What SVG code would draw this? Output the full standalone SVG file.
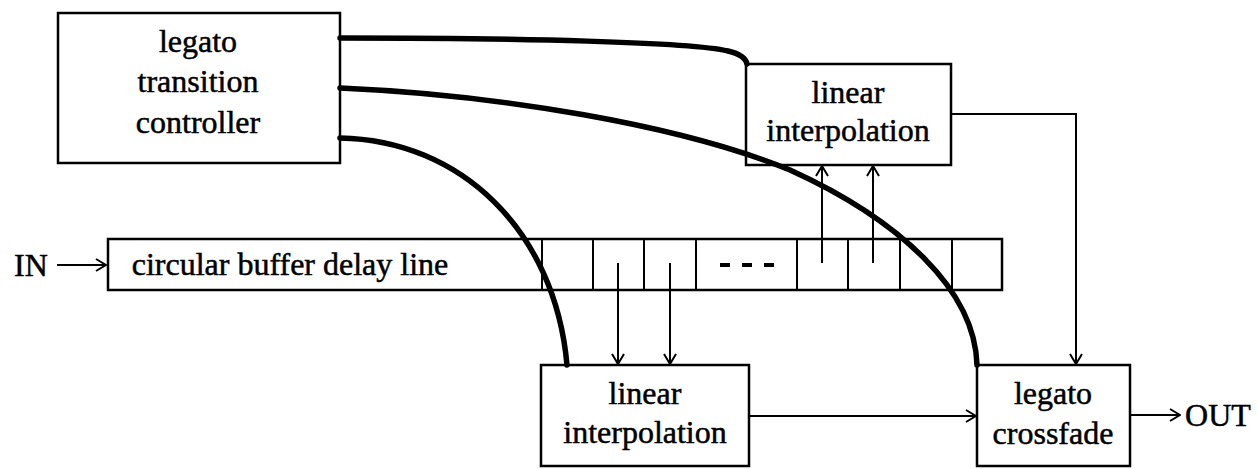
<svg xmlns="http://www.w3.org/2000/svg" width="1258" height="469" viewBox="0 0 1258 469">
<style>
.box{fill:#fff;stroke:#000;stroke-width:2.5}
.thin{fill:none;stroke:#000;stroke-width:2}
.thick{fill:none;stroke:#000;stroke-width:5.5;stroke-linecap:round}
text{font-family:"Liberation Serif","Times New Roman",serif;font-size:32px;fill:#000;stroke:#000;stroke-width:0.5;text-anchor:middle}
</style>
<defs>
<marker id="arr" viewBox="0 0 12 14" refX="11" refY="7" markerWidth="12" markerHeight="14" markerUnits="userSpaceOnUse" orient="auto">
<path d="M1,1 L11,7 L1,13" fill="none" stroke="#000" stroke-width="2"/>
</marker>
</defs>
<g id="controller">
<rect class="box" x="58" y="13" width="282" height="150" stroke-width="3"/>
<text x="198" y="52">legato</text>
<text x="198" y="92">transition</text>
<text x="198" y="133">controller</text>
</g>
<g id="buffer">
<rect class="box" x="108" y="239" width="894" height="51"/>
<text x="290" y="275">circular buffer delay line</text>
<path class="thin" d="M542,239V290M593,239V290M644,239V290M696,239V290M797,239V290M848,239V290M900,239V290M952,239V290"/>
<path d="M720,265h10M742,265h10M764,265h10" stroke="#000" stroke-width="4"/>
</g>
<g id="interp_upper">
<rect class="box" x="746" y="64" width="205" height="101"/>
<text x="848" y="103">linear</text>
<text x="848" y="141">interpolation</text>
</g>
<g id="interp_lower">
<rect class="box" x="541" y="365" width="208" height="101" stroke-width="3"/>
<text x="645" y="404">linear</text>
<text x="645" y="443">interpolation</text>
</g>
<g id="crossfade">
<rect class="box" x="977" y="365" width="153" height="101" stroke-width="3"/>
<text x="1053" y="404">legato</text>
<text x="1053" y="444">crossfade</text>
</g>
<g id="labels">
<text x="31" y="276">IN</text>
<text x="1218" y="426">OUT</text>
</g>
<g id="connectors">
<path class="thin" d="M57,265H106" marker-end="url(#arr)"/>
<path class="thin" d="M618,263V364" marker-end="url(#arr)"/>
<path class="thin" d="M670,263V364" marker-end="url(#arr)"/>
<path class="thin" d="M822,263V166" marker-end="url(#arr)"/>
<path class="thin" d="M873,263V166" marker-end="url(#arr)"/>
<path class="thin" d="M951,114H1076V364" marker-end="url(#arr)"/>
<path class="thin" d="M749,416H976" marker-end="url(#arr)"/>
<path class="thin" d="M1130,415H1180" marker-end="url(#arr)"/>
<path class="thick" d="M340,38 C520,38 690,42 728,51 C741,54 746,59 747,64"/>
<path class="thick" d="M340,88 C500,95 680,125 790,170 C900,220 975,290 977,365"/>
<path class="thick" d="M340,138 C460,140 555,230 567,365"/>
</g>
</svg>
